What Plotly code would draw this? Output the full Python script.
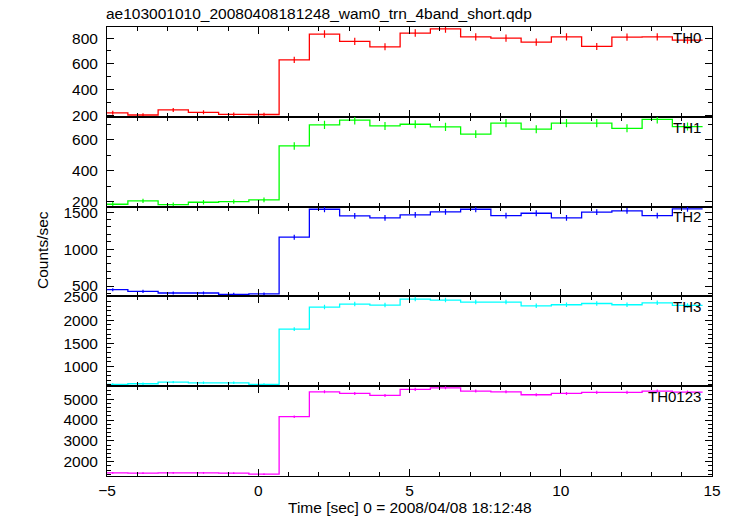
import plotly.graph_objects as go
from plotly.subplots import make_subplots

# ---- data ----
time_centers = [-4.81, -3.81, -2.81, -1.81, -0.81, 0.19, 1.19, 2.19, 3.19, 4.19,
                5.19, 6.19, 7.19, 8.19, 9.19, 10.19, 11.19, 12.19, 13.19, 14.19]
bin_halfwidth = 0.5

th0 = [220, 203, 242, 224, 208, 207, 631, 831, 774, 732, 839, 872, 810, 800, 769, 810, 735, 808, 810, 784]
th0_err = [15, 14, 16, 15, 14, 14, 25, 29, 28, 27, 29, 30, 28, 28, 28, 28, 27, 28, 28, 28]
th1 = [185, 207, 183, 198, 202, 213, 561, 697, 727, 690, 701, 684, 637, 708, 669, 708, 708, 675, 733, 686]
th1_err = [14, 14, 14, 14, 14, 15, 24, 26, 27, 26, 26, 26, 25, 27, 26, 27, 27, 26, 27, 26]
th2 = [451, 428, 406, 406, 388, 393, 1162, 1540, 1450, 1423, 1464, 1504, 1540, 1454, 1486, 1423, 1500, 1518, 1454, 1545]
th2_err = [21, 21, 20, 20, 20, 20, 34, 39, 38, 38, 38, 39, 39, 38, 39, 38, 39, 39, 38, 39]
th3 = [611, 625, 661, 646, 646, 611, 1805, 2282, 2347, 2326, 2456, 2434, 2391, 2391, 2310, 2332, 2360, 2332, 2375, 2317]
th3_err = [25, 25, 26, 25, 25, 25, 42, 48, 48, 48, 50, 49, 49, 49, 48, 48, 49, 48, 49, 48]
th0123 = [1467, 1452, 1467, 1467, 1452, 1404, 4158, 5353, 5275, 5180, 5467, 5545, 5386, 5353, 5210, 5275, 5324, 5324, 5386, 5338]
th0123_err = [38, 38, 38, 38, 38, 37, 64, 73, 73, 72, 74, 74, 73, 73, 72, 73, 73, 73, 73, 73]

panel_names = ["TH0", "TH1", "TH2", "TH3", "TH0123"]
panel_values = [th0, th1, th2, th3, th0123]
panel_errors = [th0_err, th1_err, th2_err, th3_err, th0123_err]
panel_colors = ["#ff0000", "#00ff00", "#0000ff", "#00ffff", "#ff00ff"]
panel_ranges = [[189, 886], [170, 749], [360, 1576], [572, 2513], [1316, 5621]]
panel_dticks = [200, 200, 500, 500, 1000]
panel_minor = [100, 100, 100, 100, 200]

title_text = "ae103001010_20080408181248_wam0_trn_4band_short.qdp"
x_title = "Time [sec] 0 = 2008/04/08 18:12:48"
y_title = "Counts/sec"

FONT = "Liberation Sans, Arial, sans-serif"
FS = 15.5

fig = make_subplots(rows=5, cols=1, shared_xaxes=True, vertical_spacing=0)

edges = [c - bin_halfwidth for c in time_centers] + [time_centers[-1] + bin_halfwidth]

for i, (name, vals, errs, col) in enumerate(zip(panel_names, panel_values, panel_errors, panel_colors)):
    r = i + 1
    fig.add_trace(go.Scatter(x=edges, y=vals + [vals[-1]], mode="lines", line_shape="hv",
                             line=dict(color=col, width=1.3), showlegend=False, hoverinfo="skip"),
                  row=r, col=1)
    fig.add_trace(go.Scatter(x=time_centers, y=vals, mode="markers",
                             marker=dict(size=1, color=col),
                             error_y=dict(type="data", array=errs, width=0, thickness=1.2, color=col),
                             showlegend=False),
                  row=r, col=1)
    yname = "yaxis" if r == 1 else f"yaxis{r}"
    fig.layout[yname].update(
        range=panel_ranges[i], dtick=panel_dticks[i], tick0=0,
        ticks="inside", ticklen=7, tickwidth=1, tickcolor="black",
        minor=dict(dtick=panel_minor[i], ticks="inside", ticklen=4, tickcolor="black"),
        showline=True, linecolor="black", linewidth=1, mirror="allticks",
        showgrid=False, zeroline=False,
        tickfont=dict(family=FONT, size=FS, color="black"),
        ticklabelstandoff=5,
    )
    xname = "xaxis" if r == 1 else f"xaxis{r}"
    fig.layout[xname].update(
        range=[-5, 15], dtick=5, tick0=0,
        ticks="inside", ticklen=7, tickwidth=1, tickcolor="black",
        minor=dict(dtick=1, ticks="inside", ticklen=4, tickcolor="black"),
        showline=True, linecolor="black", linewidth=1, mirror="allticks",
        showgrid=False, zeroline=False,
        tickfont=dict(family=FONT, size=FS, color="black"),
    )
    fig.add_annotation(text=name, xref=f"x{'' if r == 1 else r} domain", yref=f"y{'' if r == 1 else r} domain",
                       x=0.985, y=0.885, xanchor="right", yanchor="middle", showarrow=False,
                       font=dict(family=FONT, size=15, color="black"))

fig.add_annotation(text=title_text, xref="paper", yref="paper", x=-0.005, y=1.0305,
                   xanchor="left", yanchor="middle", showarrow=False,
                   font=dict(family=FONT, size=FS, color="black"))
fig.add_annotation(text=x_title, xref="paper", yref="paper", x=0.5, y=-0.071,
                   xanchor="center", yanchor="middle", showarrow=False,
                   font=dict(family=FONT, size=FS, color="black"))
fig.add_annotation(text=y_title, xref="paper", yref="paper", x=-0.107, y=0.504,
                   xanchor="center", yanchor="middle", textangle=-90, showarrow=False,
                   font=dict(family=FONT, size=FS, color="black"))

fig.update_layout(width=733, height=516, margin=dict(l=107, r=21, t=27, b=40),
                  plot_bgcolor="white", paper_bgcolor="white", showlegend=False)

# remove the default page margin so the figure sits at the window's top-left corner
fig.write_html("out.html", config={"displayModeBar": False},
               post_script="document.body.style.margin='0';")
